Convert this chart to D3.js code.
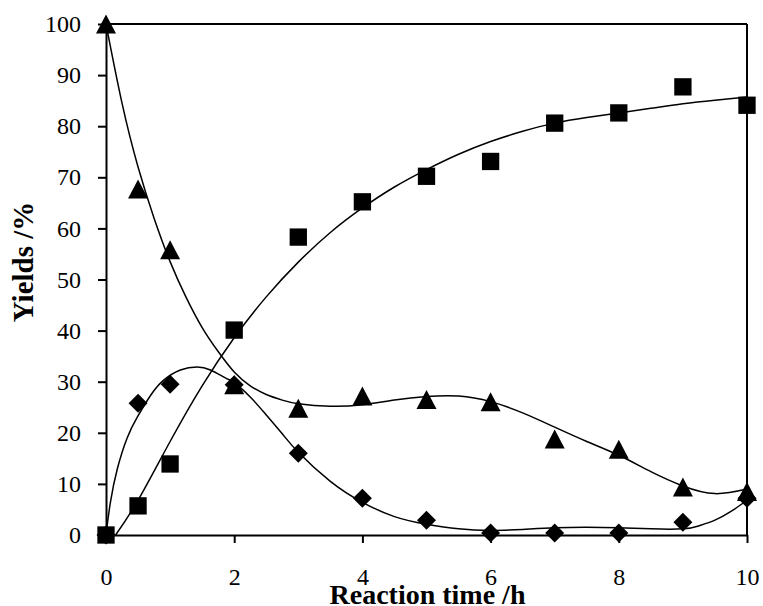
<!DOCTYPE html>
<html><head><meta charset="utf-8">
<script src="https://cdn.jsdelivr.net/npm/d3@7"></script>
<style>body{margin:0;background:#fff}</style>
</head><body><svg id="c" width="763" height="606"></svg>
<script>
// ---- data ----
const times = [0, 0.5, 1, 2, 3, 4, 5, 6, 7, 8, 9, 10];
const triangleYield = [100, 67.7, 55.8, 29.4, 24.8, 27.2, 26.5, 26.1, 18.8, 16.8, 9.4, 8.5];
const squareYield   = [0, 5.7, 13.9, 40.1, 58.3, 65.2, 70.2, 73.1, 80.6, 82.6, 87.7, 84.1];
const diamondYield  = [0, 25.8, 29.5, 29.4, 16.0, 7.2, 2.9, 0.4, 0.4, 0.4, 2.5, 7.2];

// trend curves
const triCurveX = [0, 0.25, 0.5, 0.75, 1.0, 1.25, 1.5, 1.75, 2.0, 2.25, 2.5, 2.75, 3.0, 3.5, 4.0, 4.5, 5.0, 5.5, 6.0, 6.5, 7.0, 7.5, 8.0, 8.5, 9.0, 9.5, 10];
const triCurveY = [100, 84.5, 72.0, 62.0, 53.5, 46.5, 40.6, 35.9, 31.9, 29.2, 27.5, 26.4, 25.7, 25.2, 25.5, 26.4, 27.1, 27.2, 26.1, 23.9, 21.1, 18.3, 15.6, 12.4, 9.6, 8.1, 9.0];
const sqCurveX = [0.15, 0.5, 1.0, 1.5, 2.0, 2.5, 3.0, 3.5, 4.0, 4.5, 5.0, 5.5, 6.0, 6.5, 7.0, 7.5, 8.0, 8.5, 9.0, 9.5, 10];
const sqCurveY = [0, 6.8, 18.3, 29.2, 38.6, 46.6, 53.4, 59.2, 64.0, 68.1, 71.5, 74.5, 77.0, 79.0, 80.6, 81.7, 82.6, 83.5, 84.4, 85.1, 85.7];
const diaCurveX = [0, 0.07, 0.18, 0.33, 0.49, 0.7, 0.9, 1.16, 1.42, 1.63, 1.87, 2.0, 2.25, 2.5, 2.75, 3.0, 3.5, 4.0, 4.5, 5.0, 5.5, 6.0, 6.5, 7.0, 7.5, 8.0, 8.5, 9.0, 9.25, 9.5, 9.75, 10];
const diaCurveY = [0, 6.5, 13.1, 19.0, 23.1, 27.4, 30.3, 32.3, 32.9, 32.3, 30.7, 29.8, 27.0, 23.5, 19.8, 16.2, 10.5, 6.4, 3.6, 2.1, 1.2, 0.9, 1.1, 1.4, 1.5, 1.4, 1.2, 1.2, 1.8, 2.9, 4.6, 6.8];

const xTicks = [0, 2, 4, 6, 8, 10];
const yTicks = [0, 10, 20, 30, 40, 50, 60, 70, 80, 90, 100];
const xTitle = "Reaction time /h";
const yTitle = "Yields /%";

// ---- drawing ----
const svg = d3.select('#c');
const x = d3.scaleLinear().domain([0, 10]).range([106, 747]);
const y = d3.scaleLinear().domain([0, 100]).range([535, 24]);
const FONT = '"Liberation Serif", "Times New Roman", serif';

const gx = svg.append('g').attr('transform', 'translate(0,535)')
  .call(d3.axisBottom(x).tickValues(xTicks).tickFormat(d3.format('d')).tickSize(8).tickSizeOuter(0).tickPadding(25));
const gy = svg.append('g').attr('transform', 'translate(106,0)')
  .call(d3.axisLeft(y).tickValues(yTicks).tickFormat(d3.format('d')).tickSize(8).tickSizeOuter(0).tickPadding(17));
[gx, gy].forEach(g => {
  g.attr('font-family', null).attr('font-size', null);
  g.selectAll('path.domain').attr('stroke', '#000').attr('stroke-width', 2);
  g.selectAll('.tick line').attr('stroke', '#000').attr('stroke-width', 2);
  g.selectAll('.tick text').attr('fill', '#000')
    .style('font-family', FONT).style('font-size', '24px');
});
// top and right frame
svg.append('line').attr('x1', x(0)).attr('x2', x(10)).attr('y1', y(100)).attr('y2', y(100))
  .attr('stroke', '#000').attr('stroke-width', 2);
svg.append('line').attr('x1', x(10)).attr('x2', x(10)).attr('y1', y(100)).attr('y2', y(0))
  .attr('stroke', '#000').attr('stroke-width', 2);

// titles
svg.append('text').attr('x', (x(0) + x(10)) / 2 + 1).attr('y', 604)
  .attr('text-anchor', 'middle').style('font-family', FONT).style('font-weight', 'bold')
  .style('font-size', '28px').text(xTitle);
svg.append('text').attr('transform', 'translate(33,262) rotate(-90)')
  .attr('text-anchor', 'middle').style('font-family', FONT).style('font-weight', 'bold')
  .style('font-size', '29px').text(yTitle);

// curves
const line = d3.line().x(d => x(d[0])).y(d => y(d[1])).curve(d3.curveNatural);
[[triCurveX, triCurveY], [sqCurveX, sqCurveY], [diaCurveX, diaCurveY]].forEach(([cx, cy]) => {
  svg.append('path').datum(cx.map((v, i) => [v, cy[i]]))
    .attr('d', line).attr('fill', 'none').attr('stroke', '#000').attr('stroke-width', 1.5);
});

// markers
const triSym = { draw(ctx) { ctx.moveTo(0, -9.5); ctx.lineTo(10, 9.5); ctx.lineTo(-10, 9.5); ctx.closePath(); } };
function markers(vals, sym, rot) {
  svg.append('g').selectAll('path').data(times.map((t, i) => [t, vals[i]])).join('path')
    .attr('d', sym)
    .attr('transform', d => `translate(${x(d[0])},${y(d[1])})` + (rot ? ` rotate(${rot})` : ''))
    .attr('fill', '#000');
}
markers(triangleYield, d3.symbol().type(triSym)(), 0);
markers(squareYield, d3.symbol().type(d3.symbolSquare).size(300)(), 0);
markers(diamondYield, d3.symbol().type(d3.symbolSquare).size(180)(), 45);
</script>
</body></html>
